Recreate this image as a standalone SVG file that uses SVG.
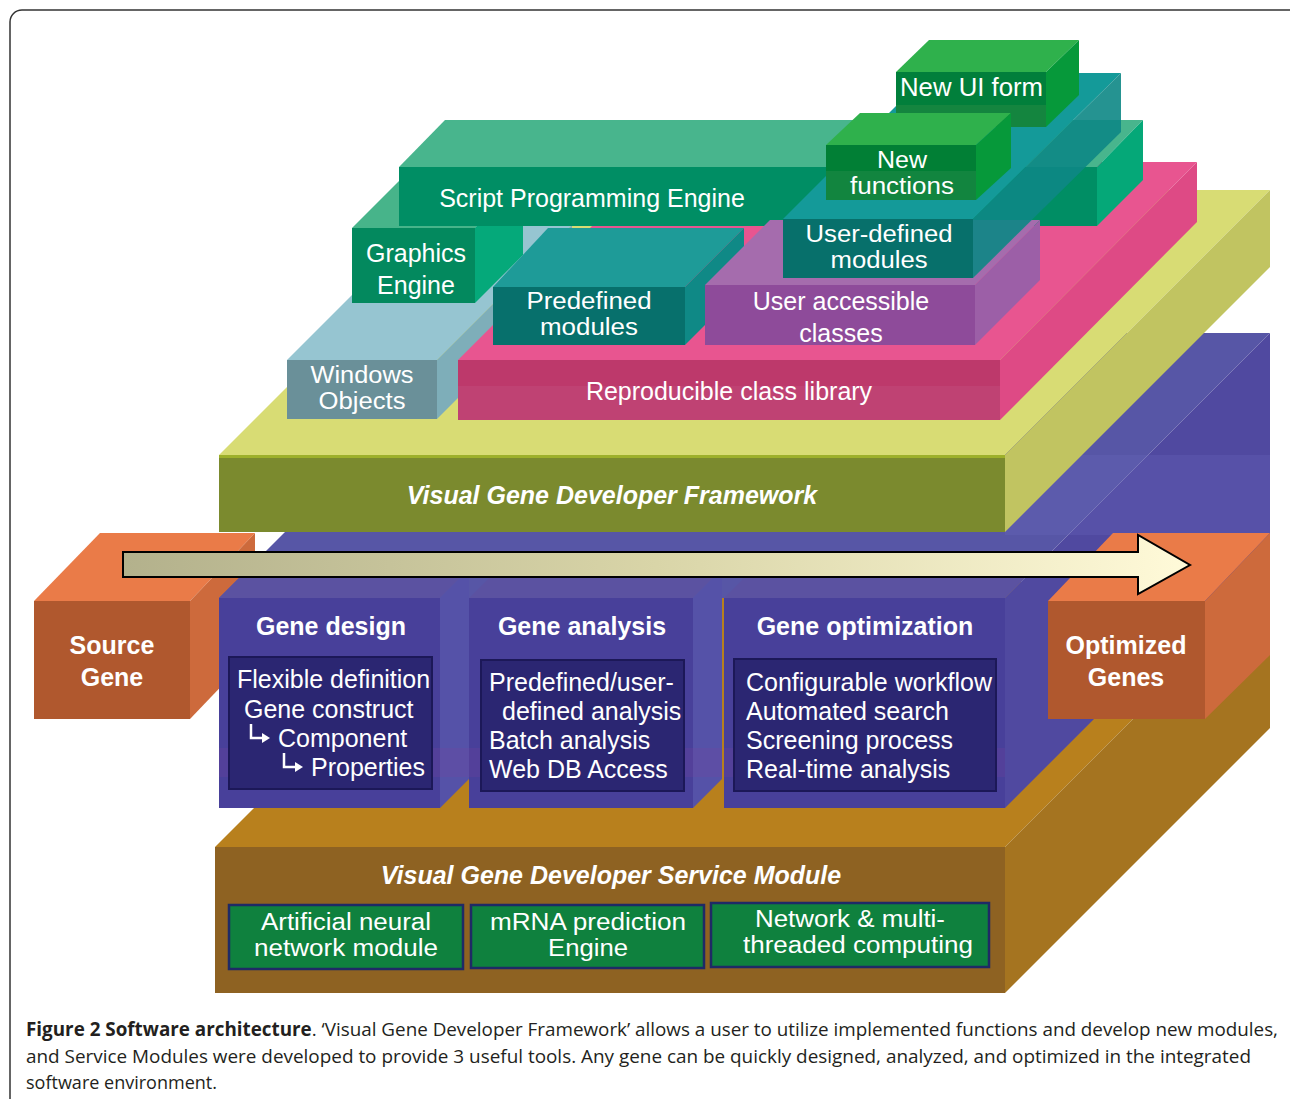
<svg xmlns="http://www.w3.org/2000/svg" width="1290" height="1099" viewBox="0 0 1290 1099">
<defs>
<style>
.t{font-family:"Liberation Sans",Arial,sans-serif;fill:#fff;font-size:25px}
.s{font-size:23px}
.c{text-anchor:middle}
.b{font-weight:bold}
.bi{font-weight:bold;font-style:italic}
.cap{font-family:"Open Sans","Liberation Sans",sans-serif;fill:#231f20;font-size:19px}
.inner{fill:#2b2672;stroke:#1c1858;stroke-width:2}
.gbox{fill:#0f813e;stroke:#1f2a66;stroke-width:2.5}
.ar{fill:none;stroke:#fff;stroke-width:2.5}
</style>
<linearGradient id="ag" x1="0" x2="1" y1="0" y2="0">
<stop offset="0" stop-color="#b3b18c"/>
<stop offset="0.5" stop-color="#d9d5a8"/>
<stop offset="1" stop-color="#fffad9"/>
</linearGradient>
</defs>
<rect x="0" y="0" width="1290" height="1099" fill="#fff"/>
<rect x="10" y="10" width="1292" height="1200" rx="12" fill="none" stroke="#333" stroke-width="1.5"/>

<g id="service-module">
<polygon points="215,847 480,582 1270,582 1005,847" fill="#b8801d"/>
<polygon points="1005,847 1270,582 1270,728 1005,993" fill="#a57420"/>
<rect x="215" y="847" width="790" height="146" fill="#8e6222"/>
<text class="t bi c" x="611" y="884" font-size="26">Visual Gene Developer Service Module</text>
</g>
<g id="ann">
<rect class="gbox" x="229" y="905" width="234" height="64"/>
<text class="t s c" x="346" y="930" textLength="170" lengthAdjust="spacingAndGlyphs">Artificial neural</text>
<text class="t s c" x="346" y="956" textLength="184" lengthAdjust="spacingAndGlyphs">network module</text>
</g>
<g id="mrna">
<rect class="gbox" x="471" y="905" width="233" height="63"/>
<text class="t s c" x="588" y="930" textLength="196" lengthAdjust="spacingAndGlyphs">mRNA prediction</text>
<text class="t s c" x="588" y="956" textLength="80" lengthAdjust="spacingAndGlyphs">Engine</text>
</g>
<g id="network">
<rect class="gbox" x="711" y="903" width="278" height="64"/>
<text class="t s c" x="850" y="927" textLength="190" lengthAdjust="spacingAndGlyphs">Network &amp; multi-</text>
<text class="t s c" x="858" y="953" textLength="230" lengthAdjust="spacingAndGlyphs">threaded computing</text>
</g>

<g id="source-gene">
<polygon points="34,601 100,533 255,533 190,601" fill="#ea7b48"/>
<polygon points="190,601 255,533 255,651 190,719" fill="#cd6a3c"/>
<rect x="34" y="601" width="156" height="118" fill="#b0582e"/>
<text class="t b c" x="112" y="654" font-size="25.5">Source</text>
<text class="t b c" x="112" y="686" font-size="25.5">Gene</text>
</g>

<g id="gene-layer">
<polygon points="219,598 484,333 1270,333 1005,598" fill="#5756a6"/>
<polygon points="1005,598 1270,333 1270,543 1005,808" fill="#5049a0"/>
<rect x="1005" y="455" width="265" height="80" fill="#6a6ac0" opacity="0.25"/>
</g>

<g id="gene-design">
<polygon points="219,598 248,569 469,569 440,598" fill="#5b52a1"/>
<polygon points="440,598 469,569 469,779 440,808" fill="#5552a8"/>
<rect x="219" y="598" width="221" height="210" fill="#48409a"/>
<rect x="219" y="748" width="250" height="29" fill="#7a3f9a" opacity="0.22"/>
<text class="t b c" x="331" y="635" font-size="25.5">Gene design</text>
<rect class="inner" x="229" y="657" width="203" height="132"/>
<text class="t" x="237" y="688" font-size="23.5">Flexible definition</text>
<text class="t" x="244" y="718" font-size="23.5">Gene construct</text>
<path class="ar" d="M251,724 V738 H263"/>
<polygon points="262,733 270,738 262,743" fill="#fff"/>
<text class="t" x="278" y="747" font-size="23.5">Component</text>
<path class="ar" d="M284,753 V767 H296"/>
<polygon points="295,762 303,767 295,772" fill="#fff"/>
<text class="t" x="311" y="776" font-size="23.5">Properties</text>
</g>

<g id="gene-analysis">
<polygon points="469,598 498,569 722,569 693,598" fill="#5b52a1"/>
<polygon points="693,598 722,569 722,779 693,808" fill="#5552a8"/>
<rect x="469" y="598" width="224" height="210" fill="#48409a"/>
<rect x="469" y="748" width="253" height="29" fill="#7a3f9a" opacity="0.22"/>
<text class="t b c" x="582" y="635" font-size="25.5">Gene analysis</text>
<rect class="inner" x="481" y="660" width="203" height="131"/>
<text class="t" x="489" y="691" font-size="23.5">Predefined/user-</text>
<text class="t" x="502" y="720" font-size="23.5">defined analysis</text>
<text class="t" x="489" y="749" font-size="23.5">Batch analysis</text>
<text class="t" x="489" y="778" font-size="23.5">Web DB Access</text>
</g>

<g id="gene-optimization">
<polygon points="724,598 753,569 1034,569 1005,598" fill="#5b52a1"/>
<rect x="724" y="598" width="281" height="210" fill="#48409a"/>
<rect x="724" y="748" width="281" height="29" fill="#7a3f9a" opacity="0.22"/>
<text class="t b c" x="865" y="635" font-size="25.5">Gene optimization</text>
<rect class="inner" x="734" y="659" width="262" height="132"/>
<text class="t" x="746" y="691" font-size="23.5">Configurable workflow</text>
<text class="t" x="746" y="720" font-size="23.5">Automated search</text>
<text class="t" x="746" y="749" font-size="23.5">Screening process</text>
<text class="t" x="746" y="778" font-size="23.5">Real-time analysis</text>
</g>

<g id="framework">
<polygon points="219,455 484,190 1270,190 1005,455" fill="#d8dc74"/>
<polygon points="1005,455 1270,190 1270,267 1005,532" fill="#c1c461"/>
<rect x="219" y="455" width="786" height="77" fill="#7b8a2e"/>
<line x1="219" y1="456.5" x2="1005" y2="456.5" stroke="#9db02a" stroke-width="3"/>
<text class="t bi c" x="612" y="504" font-size="26">Visual Gene Developer Framework</text>
</g>

<g id="windows-objects">
<polygon points="287,360 422,225 572,225 437,360" fill="#96c5d1"/>
<polygon points="437,360 572,225 572,284 437,419" fill="#7eaeb9"/>
<rect x="287" y="360" width="150" height="59" fill="#6a9099"/>
<text class="t s c" x="362" y="383" textLength="103" lengthAdjust="spacingAndGlyphs">Windows</text>
<text class="t s c" x="362" y="409" textLength="87" lengthAdjust="spacingAndGlyphs">Objects</text>
</g>

<g id="class-library">
<polygon points="458,360 656,162 1197,162 1000,360" fill="#e85590"/>
<polygon points="1000,360 1197,162 1197,222 1000,420" fill="#de4a85"/>
<rect x="458" y="360" width="542" height="60" fill="#bd396b"/>
<rect x="458" y="386" width="542" height="34" fill="#c04a78" opacity="0.6"/>
<text class="t c" x="729" y="400" font-size="26">Reproducible class library</text>
</g>

<g id="graphics-engine">
<polygon points="352,228 400,180 523,180 475,228" fill="#47b48a"/>
<polygon points="475,228 523,180 523,255 475,303" fill="#05a97a"/>
<rect x="352" y="228" width="123" height="75" fill="#03895e"/>
<text class="t c" x="416" y="262" font-size="26">Graphics</text>
<text class="t c" x="416" y="294" font-size="26">Engine</text>
</g>

<g id="script-engine">
<polygon points="399,167 445,120 1143,120 1097,167" fill="#48b58d"/>
<polygon points="1097,167 1143,120 1143,180 1097,226" fill="#05a878"/>
<rect x="399" y="167" width="698" height="59" fill="#008e64"/>
<text class="t c" x="592" y="207" font-size="26">Script Programming Engine</text>
</g>

<g id="predefined-modules">
<polygon points="493,287 548,228 744,228 685,287" fill="#1e9b98"/>
<polygon points="685,287 744,228 744,286 685,345" fill="#0f8986"/>
<rect x="493" y="287" width="192" height="58" fill="#07706c"/>
<text class="t s c" x="589" y="309" textLength="125" lengthAdjust="spacingAndGlyphs">Predefined</text>
<text class="t s c" x="589" y="335" textLength="98" lengthAdjust="spacingAndGlyphs">modules</text>
</g>

<g id="user-accessible-classes">
<polygon points="705,285 770,220 1040,220 975,285" fill="#a56cad"/>
<polygon points="975,285 1040,220 1040,280 975,345" fill="#9c5fa7"/>
<rect x="705" y="285" width="270" height="60" fill="#8e4b9a"/>
<text class="t c" x="841" y="310">User accessible</text>
<text class="t c" x="841" y="342">classes</text>
</g>

<g id="user-defined-modules">
<polygon points="783,219 929,73 1121,73 973,219" fill="#149a99"/>
<polygon points="973,219 1121,73 1121,132 973,278" fill="#0d8785" opacity="0.9"/>
<rect x="783" y="219" width="190" height="59" fill="#07706b"/>
<text class="t s c" x="879" y="242" textLength="147" lengthAdjust="spacingAndGlyphs">User-defined</text>
<text class="t s c" x="879" y="268" textLength="97" lengthAdjust="spacingAndGlyphs">modules</text>
</g>

<g id="new-ui-form">
<polygon points="896,72 929,40 1079,40 1046,72" fill="#2fb14c"/>
<polygon points="1046,72 1079,40 1079,95 1046,127" fill="#06993a"/>
<rect x="896" y="72" width="150" height="55" fill="#017f3b"/>
<rect x="896" y="105" width="150" height="22" fill="#14853f"/>
<text class="t" x="900" y="96" textLength="143" lengthAdjust="spacingAndGlyphs">New UI form</text>
</g>

<g id="new-functions">
<polygon points="826,145 860,113 1011,113 976,145" fill="#2fb14c"/>
<polygon points="976,145 1011,113 1011,168 976,200" fill="#06993a"/>
<rect x="826" y="145" width="150" height="55" fill="#017f35"/>
<rect x="826" y="171" width="150" height="29" fill="#12853f"/>
<text class="t s c" x="902" y="168" textLength="50" lengthAdjust="spacingAndGlyphs">New</text>
<text class="t s c" x="902" y="194" textLength="104" lengthAdjust="spacingAndGlyphs">functions</text>
</g>

<g id="optimized-genes">
<polygon points="1048,601 1113,533 1270,533 1205,601" fill="#ea7b48"/>
<polygon points="1205,601 1270,533 1270,655 1205,719" fill="#cd6a3c"/>
<rect x="1048" y="601" width="157" height="118" fill="#b0582e"/>
<text class="t b c" x="1126" y="654" font-size="25.5">Optimized</text>
<text class="t b c" x="1126" y="686" font-size="25.5">Genes</text>
</g>

<g id="connectors">
<path d="M123,552 H1138 V535 L1190,565 L1138,594 V577 H123 Z" fill="url(#ag)" stroke="#000" stroke-width="2"/>
</g>

<g id="caption">
<text class="cap" x="26" y="1036" textLength="1252" lengthAdjust="spacingAndGlyphs"><tspan font-weight="bold">Figure 2 Software architecture</tspan>. ‘Visual Gene Developer Framework’ allows a user to utilize implemented functions and develop new modules,</text>
<text class="cap" x="26" y="1063" textLength="1225" lengthAdjust="spacingAndGlyphs">and Service Modules were developed to provide 3 useful tools. Any gene can be quickly designed, analyzed, and optimized in the integrated</text>
<text class="cap" x="26" y="1089" textLength="191" lengthAdjust="spacingAndGlyphs">software environment.</text>
</g>
</svg>
